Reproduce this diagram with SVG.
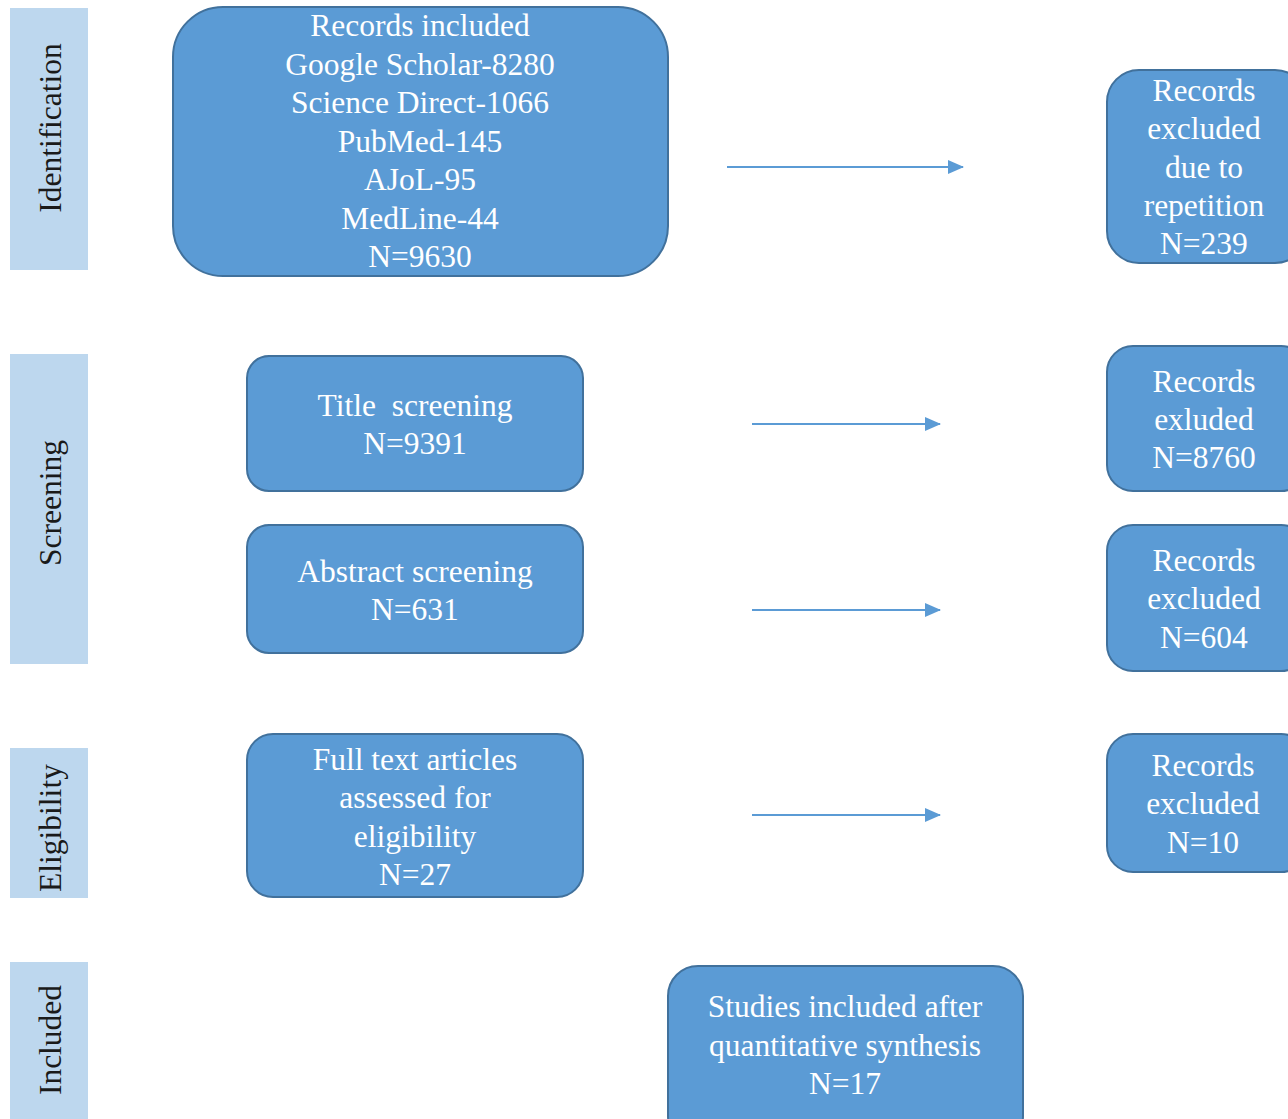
<svg xmlns="http://www.w3.org/2000/svg" width="1288" height="1119" viewBox="0 0 1288 1119">
<style>
.side{fill:#bdd7ee}
.box{fill:#5b9bd5;stroke:#41719c;stroke-width:2}
.t{fill:#ffffff;text-anchor:middle}
.s{fill:#1a1a1a;text-anchor:middle}
.c{stroke:#5b9bd5;stroke-width:2;fill:none}
</style>
<defs>
<marker id="ah2" viewBox="0 0 16 14" refX="15" refY="7" markerWidth="16" markerHeight="14" orient="auto" markerUnits="userSpaceOnUse">
<path d="M0,0 L16,7 L0,14 Z" fill="#5b9bd5"/>
</marker>
</defs>
<g font-family="Liberation Serif" font-size="31.5">
<g id="phase-identification"><rect class="side" x="10" y="8" width="78" height="262"/><text class="s" transform="translate(61,128) rotate(-90)">Identification</text></g>
<g id="phase-screening"><rect class="side" x="10" y="354" width="78" height="310"/><text class="s" transform="translate(61,503) rotate(-90)">Screening</text></g>
<g id="phase-eligibility"><rect class="side" x="10" y="748" width="78" height="150"/><text class="s" transform="translate(61,828) rotate(-90)">Eligibility</text></g>
<g id="phase-included"><rect class="side" x="10" y="962" width="78" height="157"/><text class="s" transform="translate(61,1040) rotate(-90)">Included</text></g>

<g id="records-included"><rect class="box" x="173" y="7" width="495" height="269" rx="50"/>
<text class="t" x="420" y="36">Records included</text>
<text class="t" x="420" y="75">Google Scholar-8280</text>
<text class="t" x="420" y="113">Science Direct-1066</text>
<text class="t" x="420" y="152">PubMed-145</text>
<text class="t" x="420" y="190">AJoL-95</text>
<text class="t" x="420" y="229">MedLine-44</text>
<text class="t" x="420" y="267">N=9630</text></g>

<g id="excluded-repetition"><rect class="box" x="1107" y="70" width="200" height="193" rx="32"/>
<text class="t" x="1204" y="101">Records</text>
<text class="t" x="1204" y="139">excluded</text>
<text class="t" x="1204" y="178">due to</text>
<text class="t" x="1204" y="216">repetition</text>
<text class="t" x="1204" y="254">N=239</text></g>

<g id="title-screening"><rect class="box" x="247" y="356" width="336" height="135" rx="22"/>
<text class="t" x="415" y="416">Title&#160; screening</text>
<text class="t" x="415" y="454">N=9391</text></g>

<g id="excluded-title"><rect class="box" x="1107" y="346" width="200" height="145" rx="26"/>
<text class="t" x="1204" y="392">Records</text>
<text class="t" x="1204" y="430">exluded</text>
<text class="t" x="1204" y="468">N=8760</text></g>

<g id="abstract-screening"><rect class="box" x="247" y="525" width="336" height="128" rx="22"/>
<text class="t" x="415" y="582">Abstract screening</text>
<text class="t" x="415" y="620">N=631</text></g>

<g id="excluded-abstract"><rect class="box" x="1107" y="525" width="200" height="146" rx="26"/>
<text class="t" x="1204" y="571">Records</text>
<text class="t" x="1204" y="609">excluded</text>
<text class="t" x="1204" y="648">N=604</text></g>

<g id="full-text"><rect class="box" x="247" y="734" width="336" height="163" rx="26"/>
<text class="t" x="415" y="770">Full text articles</text>
<text class="t" x="415" y="808">assessed for</text>
<text class="t" x="415" y="847">eligibility</text>
<text class="t" x="415" y="885">N=27</text></g>

<g id="excluded-fulltext"><rect class="box" x="1107" y="734" width="200" height="138" rx="26"/>
<text class="t" x="1203" y="776">Records</text>
<text class="t" x="1203" y="814">excluded</text>
<text class="t" x="1203" y="853">N=10</text></g>

<g id="studies-included"><rect class="box" x="668" y="966" width="355" height="180" rx="30"/>
<text class="t" x="845" y="1017">Studies included after</text>
<text class="t" x="845" y="1056">quantitative synthesis</text>
<text class="t" x="845" y="1094">N=17</text></g>
</g>

<g id="connectors">
<line class="c" x1="727" y1="167" x2="963" y2="167" marker-end="url(#ah2)"/>
<line class="c" x1="752" y1="424" x2="940" y2="424" marker-end="url(#ah2)"/>
<line class="c" x1="752" y1="610" x2="940" y2="610" marker-end="url(#ah2)"/>
<line class="c" x1="752" y1="815" x2="940" y2="815" marker-end="url(#ah2)"/>
</g>
</svg>
